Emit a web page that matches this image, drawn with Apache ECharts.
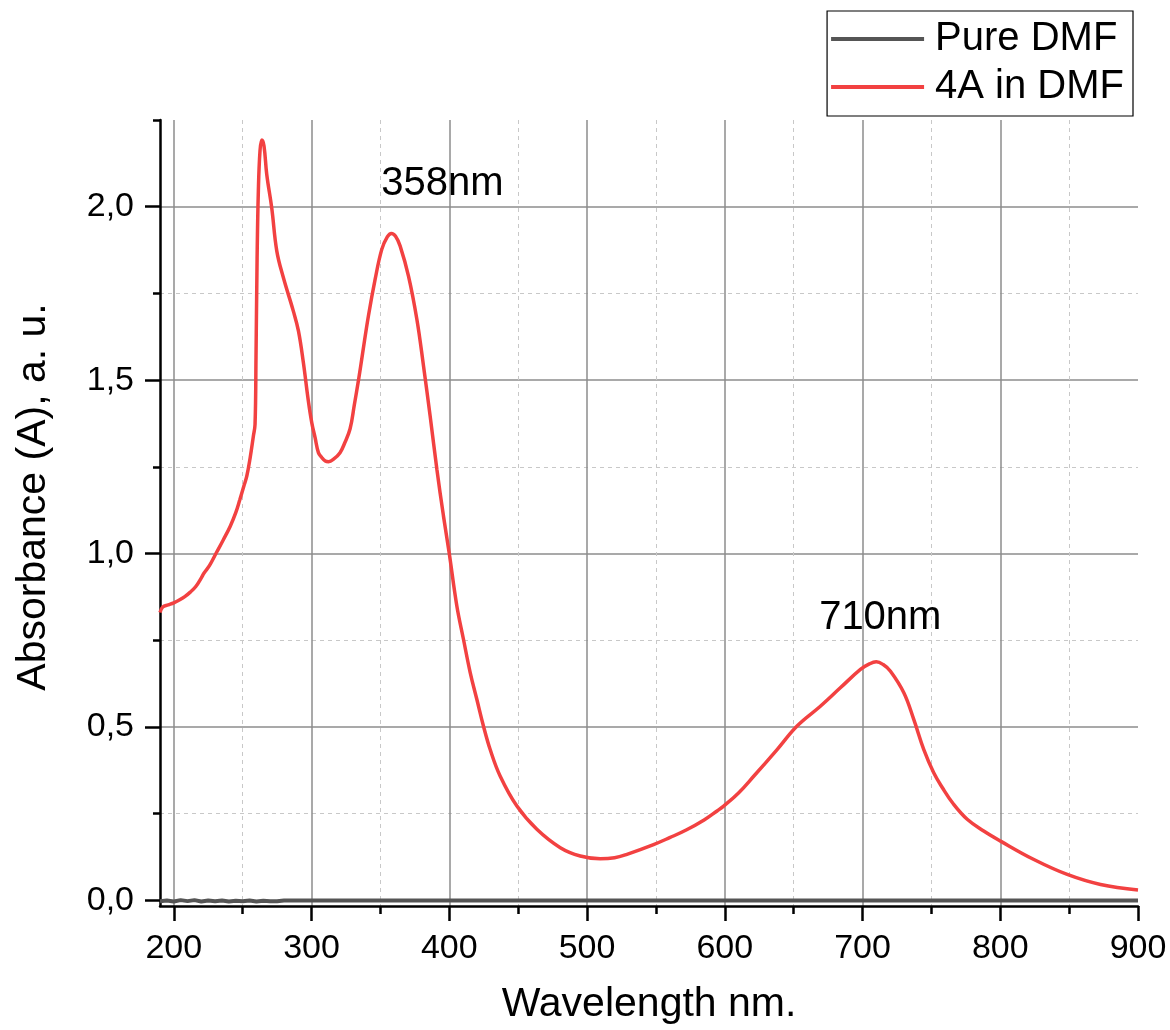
<!DOCTYPE html>
<html>
<head>
<meta charset="utf-8">
<script src="https://cdn.jsdelivr.net/npm/echarts@6/dist/echarts.min.js"></script>
<style>
  html, body { margin: 0; padding: 0; background: #fff; }
  #chart { width: 1170px; height: 1030px; }
</style>
</head>
<body>
<div id="chart"></div>
<script>
// UV-Vis absorption spectra (wavelength in nm, absorbance in a.u.)
const seriesNames = ['Pure DMF', '4A in DMF'];

const dmfWavelength = [190, 195, 200, 205, 210, 215, 220, 225, 230, 235, 240, 245, 250, 255, 260, 265, 270, 275, 280, 900];
const dmfAbsorbance = [-0.002, 0.000, -0.003, 0.001, -0.002, 0.001, -0.003, 0.000, -0.002, 0.000, -0.003, -0.001, -0.002, 0.000, -0.003, -0.001, -0.002, -0.002, 0.000, 0.000];

const sampleWavelength = [
  190, 192, 196, 200, 204, 208, 212, 216, 220, 222, 226, 231, 236, 241, 245, 248, 251, 253, 255.4, 257.8,
  259, 259.7, 260.5, 261.4, 262.6, 263.9, 265.5, 267.5, 271.1, 274.8, 279.6, 286.8, 290.5, 294.1, 297.7,
  300.2, 302.6, 305, 307.4, 310, 312.3, 316, 320.7, 324, 328, 331, 334.1, 337, 341.3, 346.2, 351, 355, 358,
  361, 364.3, 370.4, 376.5, 381.3, 386.1, 391, 395.8, 400, 405.5, 410.3, 415.2, 420, 424.8, 429.7, 437,
  449.1, 463.6, 480.6, 495.1, 509.6, 520, 529, 548.3, 560, 572, 585, 594.4, 599.2, 610, 621, 638, 652.5,
  669.4, 683.9, 698.5, 705, 710, 715, 720.3, 730, 737.2, 744.5, 751.7, 758, 766, 776, 788,
  800.2, 824.4, 848.6, 872.8, 900
];
const sampleAbsorbance = [
  0.830, 0.846, 0.852, 0.858, 0.866, 0.876, 0.889, 0.905, 0.930, 0.944, 0.966, 1.003, 1.040, 1.079, 1.118, 1.156, 1.196, 1.223, 1.275, 1.339,
  1.373, 1.566, 1.854, 2.045, 2.161, 2.192, 2.175, 2.093, 1.997, 1.872, 1.795, 1.699, 1.642, 1.550, 1.440,
  1.377, 1.334, 1.291, 1.277, 1.267, 1.265, 1.272, 1.291, 1.318, 1.360, 1.427, 1.500, 1.575, 1.685, 1.791, 1.877, 1.913, 1.923,
  1.915, 1.887, 1.800, 1.675, 1.541, 1.397, 1.243, 1.108, 1.000, 0.849, 0.753, 0.657, 0.580, 0.503, 0.435, 0.358,
  0.272, 0.205, 0.152, 0.128, 0.120, 0.123, 0.133, 0.161, 0.181, 0.203, 0.232, 0.258, 0.272, 0.310, 0.358, 0.435, 0.503,
  0.560, 0.613, 0.666, 0.682, 0.688, 0.680, 0.661, 0.599, 0.522, 0.435, 0.368, 0.325, 0.278, 0.234, 0.200,
  0.171, 0.118, 0.075, 0.046, 0.030
];

// Peak annotations
const peakWavelength = [358, 710];
const peakText = ['358nm', '710nm'];

// Axis ticks
const xMajorTicks = [200, 300, 400, 500, 600, 700, 800, 900];
const xMinorTicks = [250, 350, 450, 550, 650, 750, 850];
const yMajorTicks = [0, 0.5, 1.0, 1.5, 2.0];
const yMinorTicks = [0.25, 0.75, 1.25, 1.75, 2.25];

const FONT = "'Liberation Sans', Arial, sans-serif";

function zip(xs, ys) { return xs.map((x, i) => [x, ys[i]]); }
function absorbanceAt(wl) {
  const i = sampleWavelength.indexOf(wl);
  return sampleAbsorbance[i];
}

const labelOffsets = [[51, -49], [4, -44]];
const peakMarks = peakWavelength.map((wl, i) => ({
  coord: [wl, absorbanceAt(wl)],
  label: { formatter: peakText[i], offset: labelOffsets[i] }
}));

const xRange = { min: 190, max: 900 };
const yRange = { min: -0.016, max: 2.25 };

const axisLineStyle = { color: '#000', width: 2.5 };
const majorGrid = { show: true, lineStyle: { color: '#8c8c8c', width: 1.5, type: 'solid' } };
const minorGrid = { show: true, lineStyle: { color: '#c8c8c8', width: 1, type: [4, 4] } };

const chart = echarts.init(document.getElementById('chart'), null, { renderer: 'canvas' });
chart.setOption({
  animation: false,
  backgroundColor: '#fff',
  textStyle: { fontFamily: FONT },
  grid: { left: 160, right: 32, top: 120, bottom: 123 },
  legend: {
    orient: 'vertical',
    right: 37,
    top: 11,
    align: 'left',
    icon: 'rect',
    itemWidth: 93,
    itemHeight: 4,
    itemGap: 6,
    padding: [7, 9, 8, 4],
    borderColor: '#000',
    borderWidth: 1.2,
    textStyle: { fontFamily: FONT, fontSize: 40, color: '#000', lineHeight: 42, padding: [0, 0, 0, 6] },
    data: seriesNames
  },
  xAxis: [
    {
      type: 'value', position: 'bottom', min: xRange.min, max: xRange.max,
      name: 'Wavelength nm.', nameLocation: 'middle', nameGap: 78,
      nameTextStyle: { fontFamily: FONT, fontSize: 41, color: '#000' },
      axisLine: { show: true, onZero: false, lineStyle: axisLineStyle },
      axisTick: { show: true, length: 15, customValues: xMajorTicks, lineStyle: { color: '#000', width: 2.5 } },
      axisLabel: { show: true, customValues: xMajorTicks, margin: 26, fontFamily: FONT, fontSize: 34, color: '#000' },
      splitLine: Object.assign({ showMinLine: true, showMaxLine: false }, majorGrid)
    },
    {
      type: 'value', position: 'bottom', min: xRange.min, max: xRange.max,
      axisLine: { show: false, onZero: false },
      axisTick: { show: true, length: 8, customValues: xMinorTicks, lineStyle: { color: '#000', width: 2.5 } },
      axisLabel: { show: false },
      splitLine: minorGrid
    }
  ],
  yAxis: [
    {
      type: 'value', position: 'left', min: yRange.min, max: yRange.max,
      name: 'Absorbance (A), a. u.', nameLocation: 'middle', nameGap: 106,
      nameTextStyle: { fontFamily: FONT, fontSize: 41, color: '#000', padding: [0, 0, 0, 32] },
      axisLine: { show: true, onZero: false, lineStyle: axisLineStyle },
      axisTick: { show: true, length: 15, customValues: yMajorTicks, lineStyle: { color: '#000', width: 2.5 } },
      axisLabel: {
        show: true, customValues: yMajorTicks, margin: 26, fontFamily: FONT, fontSize: 34, color: '#000',
        formatter: v => v.toFixed(1).replace('.', ',')
      },
      splitLine: majorGrid
    },
    {
      type: 'value', position: 'left', min: yRange.min, max: yRange.max,
      axisLine: { show: false, onZero: false },
      axisTick: { show: true, length: 7, customValues: yMinorTicks, lineStyle: { color: '#000', width: 2.5 } },
      axisLabel: { show: false },
      splitLine: Object.assign({ showMaxLine: false }, minorGrid)
    }
  ],
  series: [
    {
      name: seriesNames[0], type: 'line', xAxisIndex: 0, yAxisIndex: 0,
      data: zip(dmfWavelength, dmfAbsorbance),
      showSymbol: false, symbol: 'none', z: 3,
      itemStyle: { color: '#555555' },
      lineStyle: { color: '#555555', width: 4 }
    },
    {
      name: seriesNames[1], type: 'line', xAxisIndex: 0, yAxisIndex: 0,
      data: zip(sampleWavelength, sampleAbsorbance),
      showSymbol: false, symbol: 'none', z: 4,
      smooth: 0.4,
      itemStyle: { color: '#f24141' },
      lineStyle: { color: '#f24141', width: 3.5 },
      markPoint: {
        symbol: 'circle', symbolSize: 2,
        itemStyle: { color: 'rgba(0,0,0,0)' },
        label: { show: true, position: 'inside', fontFamily: FONT, fontSize: 40, color: '#000' },
        data: peakMarks
      }
    }
  ]
});
</script>
</body>
</html>
